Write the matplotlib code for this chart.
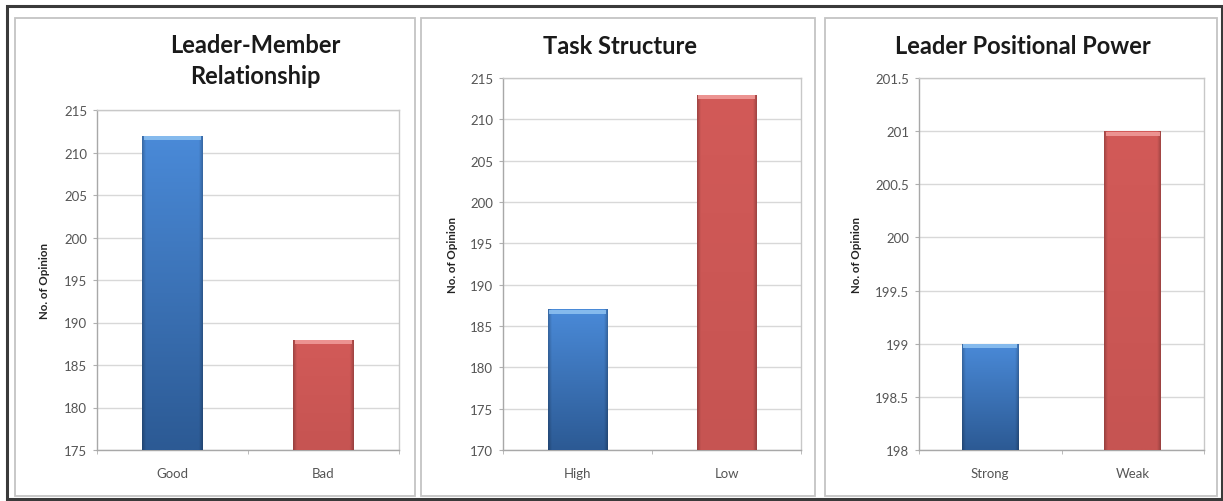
import numpy as np
import matplotlib
matplotlib.use("Agg")
import matplotlib.pyplot as plt
from matplotlib.patches import Rectangle
from matplotlib.colors import to_rgb

plt.rcParams['font.family'] = ['Lato', 'DejaVu Sans']

titles = ["Leader-Member\nRelationship", "Task Structure", "Leader Positional Power"]
categories = [["Good", "Bad"], ["High", "Low"], ["Strong", "Weak"]]
values = [[212, 188], [187, 213], [199, 201]]
ylims = [(175, 215), (170, 215), (198, 201.5)]
yticks = [list(range(175, 216, 5)), list(range(170, 216, 5)),
          [198, 198.5, 199, 199.5, 200, 200.5, 201, 201.5]]
ytick_labels = [[str(t) for t in yticks[0]], [str(t) for t in yticks[1]],
                ["198", "198.5", "199", "199.5", "200", "200.5", "201", "201.5"]]
ylabel = "No. of Opinion"

W, H = 1223, 502
fig = plt.figure(figsize=(W / 100, H / 100), dpi=100)

def fx(px):
    return px / W

def fy(py):
    return 1 - py / H

# outer border
fig.patches.append(Rectangle((fx(7), fy(500)), fx(1222) - fx(7), fy(7) - fy(500),
                             transform=fig.transFigure, fill=False,
                             edgecolor="#3a3a3a", linewidth=2.2, zorder=0))
# panel boxes
panels = [(15, 19, 415, 497), (421, 19, 815, 497), (825, 19, 1217, 497)]
for (x0, y0, x1, y1) in panels:
    fig.patches.append(Rectangle((fx(x0), fy(y1)), fx(x1) - fx(x0), fy(y0) - fy(y1),
                                 transform=fig.transFigure, fill=False,
                                 edgecolor="#c4c4c4", linewidth=1.3, zorder=0))

axes_px = [(97, 111, 399, 451), (503, 79, 801, 451), (919, 79, 1204, 451)]
title_y = [61, 47, 47]
title_x = [255, 620, 1023]
ylabel_pos = [(45, 281), (452, 255), (856, 255)]


def gradient_img(kind):
    n = 100
    t = np.linspace(0, 1, n)[:, None]  # 0 bottom, 1 top
    if kind == "blue":
        bot = np.array(to_rgb("#2c5a94"))
        top = np.array(to_rgb("#4a8ad8"))
        hl = np.array(to_rgb("#8cc0f0"))
    else:
        bot = np.array(to_rgb("#c65452"))
        top = np.array(to_rgb("#d25a58"))
        hl = np.array(to_rgb("#f09a98"))
    base = bot + (top - bot) * t[..., None]
    base = np.repeat(base, 60, axis=1)
    x = np.linspace(0, 1, 60)
    edge = np.clip(1 - np.minimum(x, 1 - x) / 0.06, 0, 1) * 0.22
    base = base * (1 - edge[None, :, None])
    return base, hl


for i in range(3):
    x0, y0, x1, y1 = axes_px[i]
    ax = fig.add_axes([fx(x0), fy(y1), fx(x1) - fx(x0), fy(y0) - fy(y1)])
    pos = np.arange(len(categories[i]))
    bottom = ylims[i][0]
    heights = [v - bottom for v in values[i]]
    bars = ax.bar(pos, heights, bottom=bottom, width=0.4,
                  color=["#3c74be", "#cd5553"], zorder=2, linewidth=0)
    yr = ylims[i][1] - ylims[i][0]
    for b, kind in zip(bars, ["blue", "red"]):
        img, hl = gradient_img(kind)
        bx, by, bw, bh = b.get_x(), b.get_y(), b.get_width(), b.get_height()
        im = ax.imshow(img, extent=[bx, bx + bw, by, by + bh], origin="lower",
                       aspect="auto", zorder=3, interpolation="bilinear")
        im.set_clip_path(b)
        ax.add_patch(Rectangle((bx + bw * 0.03, by + bh - yr * 0.012), bw * 0.94, yr * 0.01,
                               facecolor=hl, edgecolor="none", zorder=4, alpha=0.9))
    ax.set_xlim(-0.5, len(categories[i]) - 0.5)
    ax.set_ylim(*ylims[i])
    ax.set_yticks(yticks[i])
    ax.set_yticklabels(ytick_labels[i])
    ax.set_xticks(pos)
    ax.set_xticklabels(categories[i])
    ax.set_xticks([-0.5, 0.5, 1.5], minor=True)
    ax.tick_params(axis="x", which="major", length=0, pad=12, labelsize=9.5, colors="#555555")
    ax.tick_params(axis="x", which="minor", length=3, color="#b0b0b0", direction="out")
    ax.tick_params(axis="y", length=3, color="#b0b0b0", labelsize=9.5, colors="#555555", pad=4)
    ax.grid(axis="y", color="#d8d8d8", linewidth=1.0, zorder=0)
    ax.set_axisbelow(True)
    for s in ax.spines.values():
        s.set_color("#c8c8c8")
        s.set_linewidth(1.0)
    ax.spines["left"].set_color("#a8a8a8")
    ax.spines["bottom"].set_color("#a8a8a8")
    fig.text(fx(title_x[i]), fy(title_y[i]), titles[i], ha="center", va="center",
             fontsize=17, fontweight="bold", color="#1a1a1a", linespacing=1.45)
    lx, ly = ylabel_pos[i]
    fig.text(fx(lx), fy(ly), ylabel, rotation=90,
             ha="center", va="center", fontsize=8.3, fontweight="bold", color="#222222")

fig.savefig("out.png", dpi=100)
